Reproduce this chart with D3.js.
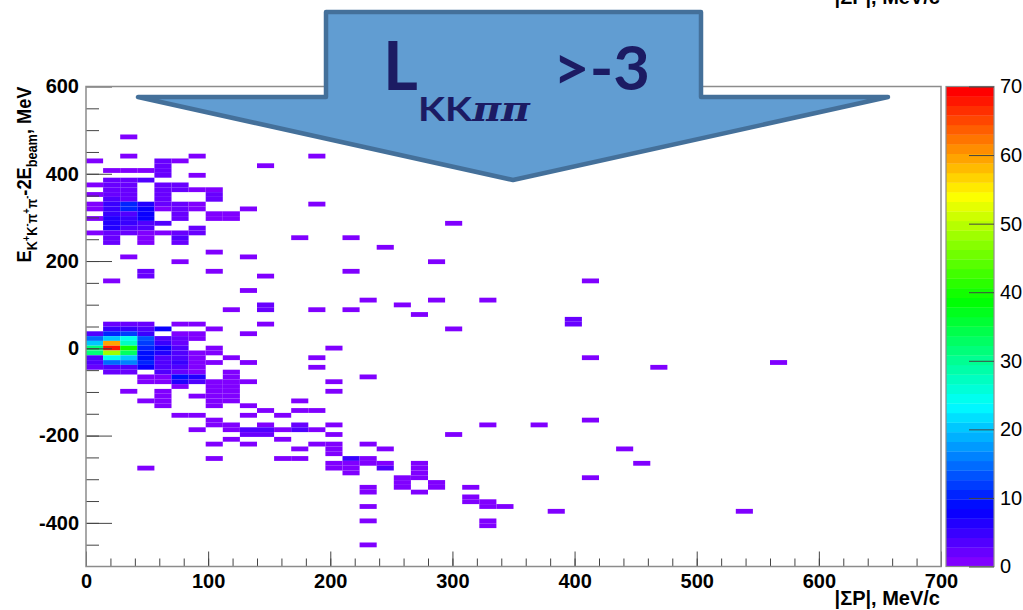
<!DOCTYPE html>
<html>
<head>
<meta charset="utf-8">
<script src="https://cdn.jsdelivr.net/npm/d3@7"></script>
<style>
  body { margin: 0; background: #fff; }
  svg { display: block; font-family: "Liberation Sans", Arial, sans-serif; }
</style>
</head>
<body>
<div class="container"></div>
<script>
var w = 1023;
var h = 610;

// histogram binning: |SumP| 0..700 in 14 MeV/c bins, E 0..1100 range in 11 MeV bins
var binW = 14;
var binH = 11;

// lower edge (MeV) of each filled row of the 2D histogram
var energyLow = [479, 435, 424, 413, 402, 391, 380, 369, 358, 347, 336, 325, 314, 303, 292, 281, 270, 259, 248, 237,
  226, 215, 204, 193, 171, 160, 149, 127, 105, 94, 83, 72, 61, 50, 39, 28, 17, 6, -5, -16,
  -27, -38, -49, -60, -71, -82, -93, -104, -115, -126, -137, -148, -159, -170, -181, -192, -203, -214, -225, -236,
  -247, -258, -269, -280, -291, -302, -313, -324, -335, -346, -357, -368, -379, -401, -412, -456];

// lower edges (MeV/c) of the filled bins in each row
var momentumLow = [
  [28], [28, 84, 182], [0, 56, 70], [56, 140], [14, 28, 42, 56], [56, 84], [14, 28, 42],
  [0, 14, 28, 56, 70], [14, 28, 56, 70, 84, 98], [0, 14, 28, 56, 98], [14, 28, 56, 98],
  [0, 14, 28, 42, 56, 70, 84, 182], [0, 14, 28, 42, 56, 70, 84, 126], [14, 28, 42, 70, 98, 112],
  [0, 14, 28, 42, 70, 98, 112], [14, 28, 42, 56, 294], [14, 28, 42, 84], [0, 14, 28, 42, 56, 70, 84],
  [14, 42, 70, 168, 210], [14, 42, 70],
  [238], [98], [28, 126], [70, 280], [42, 98, 210], [42, 140], [14, 406], [126], [224, 280, 322], [140, 252],
  [112, 140, 182, 210], [266], [392], [14, 28, 42, 70, 84, 140, 392], [14, 28, 42, 56, 98, 294],
  [0, 14, 28, 42, 70, 84, 126], [0, 14, 28, 42, 56, 70, 84], [0, 14, 28, 42, 56, 70],
  [0, 14, 28, 42, 56, 70, 98, 196], [0, 14, 28, 42, 56, 70, 84, 98],
  [0, 14, 28, 42, 56, 70, 84, 112, 182, 406], [0, 14, 28, 42, 56, 70, 84, 98, 126, 560],
  [0, 14, 28, 42, 56, 70, 84, 182, 462], [14, 28, 56, 70, 84, 112], [42, 56, 70, 84, 112, 224],
  [42, 56, 70, 84, 98, 112, 126, 196], [70, 98, 112], [28, 56, 98, 112, 196], [56, 84, 98, 112],
  [42, 56, 98, 112, 168], [56, 98, 126], [140, 168, 182], [70, 84, 126, 154], [98, 406],
  [98, 112, 140, 168, 196, 322, 364], [84, 112, 126, 140, 154, 168, 182], [126, 140, 196, 294], [112, 154],
  [98, 126, 182, 196, 224], [168, 196, 238, 434],
  [196], [98, 154, 168, 210, 224], [196, 210, 224, 238, 266, 448], [42, 196, 210, 238, 266], [210, 266],
  [252, 266, 406], [252, 280], [224, 252, 280, 308], [224, 266], [308], [308, 322], [224, 322, 336],
  [378, 532], [224, 322], [322], [224]];

// entries in those bins
var entries = [
  [1], [1, 1, 1], [1, 2, 1], [2, 1], [1, 1, 1, 2], [2, 1], [2, 2, 3],
  [1, 2, 2, 2, 2], [2, 2, 2, 2, 1, 1], [1, 2, 2, 2, 2], [4, 2, 2, 2],
  [1, 5, 10, 6, 2, 2, 1, 1], [1, 5, 11, 7, 1, 2, 1, 1], [5, 3, 7, 2, 1, 1],
  [1, 6, 5, 7, 2, 1, 1], [6, 5, 4, 3, 1], [6, 4, 3, 2], [1, 2, 2, 1, 1, 2, 2],
  [2, 1, 3, 1, 1], [2, 1, 2],
  [1], [1], [1, 1], [1, 1], [2, 1, 1], [2, 1], [1, 1], [1], [1, 1, 1], [2, 1],
  [1, 2, 1, 1], [1], [2], [2, 2, 2, 1, 1, 1, 2], [5, 5, 4, 8, 1, 1],
  [4, 10, 12, 5, 1, 1, 1], [14, 20, 25, 13, 3, 2, 1], [20, 60, 27, 12, 5, 2],
  [32, 68, 40, 10, 7, 3, 1, 1], [32, 48, 33, 9, 6, 3, 1, 1],
  [3, 24, 20, 9, 3, 3, 1, 1, 1, 1], [3, 14, 16, 10, 4, 5, 1, 1, 1, 1],
  [2, 3, 3, 8, 4, 3, 1, 1, 1], [2, 2, 3, 2, 1, 1], [1, 1, 9, 6, 1, 1],
  [1, 1, 6, 4, 1, 1, 1, 1], [1, 1, 1], [1, 1, 1, 1, 1], [1, 1, 1, 1],
  [1, 1, 1, 1, 1], [1, 1, 1], [1, 1, 1], [1, 1, 1, 1], [1, 1],
  [1, 1, 1, 2, 1, 1, 1], [1, 1, 3, 3, 1, 3, 1], [2, 2, 1, 1], [1, 1],
  [1, 1, 1, 1, 1], [1, 1, 1, 1],
  [1], [1, 1, 1, 5, 1], [1, 1, 1, 1, 1, 1], [1, 1, 1, 3, 1], [1, 1],
  [1, 1, 1], [1, 1], [1, 1, 1, 1], [1, 1], [1], [1, 1], [1, 1, 1],
  [1, 1], [1, 1], [1], [1]];

var xTicks = [0, 100, 200, 300, 400, 500, 600, 700];
var yTicks = [-400, -200, 0, 200, 400, 600];
var zTicks = [0, 10, 20, 30, 40, 50, 60, 70];
var zMax = 70;
var nLevels = 50;

var canvas = d3.select(".container").append("svg")
  .attr("width", w)
  .attr("height", h);

canvas.append("rect").attr("width", w).attr("height", h).attr("fill", "#fff");

var xScale = d3.scaleLinear().domain([0, 700]).range([86, 941]);
var yScale = d3.scaleLinear().domain([-500, 600]).range([566.5, 86.5]);
var zScale = d3.scaleLinear().domain([0, zMax]).range([566.5, 86.5]);

// old ROOT "pretty" palette: violet -> blue -> cyan -> green -> yellow -> red
function levelColor(lvl) {
  return d3.hsl(270 * (1 - lvl / (nLevels - 1)), 1, 0.5) + "";
}
function binColor(n) {
  var lvl = Math.min(nLevels - 1, Math.floor(n / zMax * nLevels));
  return levelColor(lvl);
}

var cells = [];
energyLow.forEach(function (e, r) {
  momentumLow[r].forEach(function (p, k) {
    cells.push({ p: p, e: e, n: entries[r][k] });
  });
});

// bins
canvas.append("g").selectAll("rect").data(cells).enter().append("rect")
  .attr("x", (d) => xScale(d.p))
  .attr("y", (d) => yScale(d.e + binH))
  .attr("width", (d) => xScale(d.p + binW) - xScale(d.p))
  .attr("height", (d) => yScale(d.e) - yScale(d.e + binH))
  .attr("fill", (d) => binColor(d.n));

// plain hyphen for negatives, as ROOT prints them
var plain = (d) => String(d);

function styleAxis(g, bold) {
  g.select(".domain").remove();
  g.selectAll(".tick line").attr("stroke", "#444").attr("stroke-width", 1);
  g.selectAll(".tick text")
    .attr("fill", "#000")
    .attr("font-size", 20)
    .attr("font-weight", bold ? "bold" : "normal")
    .attr("font-family", "'Liberation Sans', Arial, sans-serif");
}

// x axis (ticks inside the frame, ROOT style)
canvas.append("g")
  .attr("transform", "translate(0,566.5)")
  .call(d3.axisBottom(xScale).tickValues(d3.range(0, 701, 20)).tickSize(-8).tickSizeOuter(0).tickFormat(""))
  .call((g) => styleAxis(g, true));
canvas.append("g")
  .attr("transform", "translate(0,566.5)")
  .call(d3.axisBottom(xScale).tickValues(xTicks).tickSize(-15).tickSizeOuter(0).tickPadding(7).tickFormat(plain))
  .call((g) => styleAxis(g, true));

// y axis
canvas.append("g")
  .attr("transform", "translate(86,0)")
  .call(d3.axisLeft(yScale).tickValues(d3.range(-450, 600, 50)).tickSize(-13).tickSizeOuter(0).tickFormat(""))
  .call((g) => styleAxis(g, true));
canvas.append("g")
  .attr("transform", "translate(86,0)")
  .call(d3.axisLeft(yScale).tickValues(yTicks).tickSize(-26).tickSizeOuter(0).tickPadding(7).tickFormat(plain))
  .call((g) => styleAxis(g, true));

// frame
canvas.append("rect")
  .attr("x", 86).attr("y", 86.5).attr("width", 855).attr("height", 480)
  .attr("fill", "none").attr("stroke", "#8c8c8c").attr("stroke-width", 1.5);

// palette
var bands = d3.range(nLevels);
canvas.append("g").selectAll("rect").data(bands).enter().append("rect")
  .attr("x", 946)
  .attr("width", 48)
  .attr("y", (k) => zScale((k + 1) * zMax / nLevels))
  .attr("height", (k) => zScale(k * zMax / nLevels) - zScale((k + 1) * zMax / nLevels) + 0.3)
  .attr("fill", (k) => levelColor(k));
canvas.append("rect")
  .attr("x", 946).attr("y", 86.5).attr("width", 48).attr("height", 480)
  .attr("fill", "none").attr("stroke", "#8c8c8c").attr("stroke-width", 1.2);
canvas.append("g")
  .attr("transform", "translate(994,0)")
  .call(d3.axisRight(zScale).tickValues(zTicks).tickSize(-25).tickSizeOuter(0).tickPadding(6).tickFormat(plain))
  .call((g) => styleAxis(g, false));

// axis titles
canvas.append("text")
  .attr("x", 940).attr("y", 605)
  .attr("text-anchor", "end")
  .attr("font-size", 20).attr("font-weight", "bold")
  .text("|ΣP|, MeV/c");

// title of the plot above, cut by the page edge as in the slide
canvas.append("text")
  .attr("x", 940).attr("y", 4)
  .attr("text-anchor", "end")
  .attr("font-size", 20).attr("font-weight", "bold")
  .text("|ΣP|, MeV/c");

var yTitle = canvas.append("text")
  .attr("transform", "translate(31,86.5) rotate(-90)")
  .attr("text-anchor", "end")
  .attr("font-size", 20).attr("font-weight", "bold")
  .attr("textLength", 176).attr("lengthAdjust", "spacingAndGlyphs");
var yParts = [
  ["E", 20, 0], ["K", 14, 6], ["+", 10, -7], ["K", 14, 7], ["-", 10, -7],
  ["π", 14, 7], ["+", 10, -7], ["π", 14, 7], ["-", 10, -7],
  ["-2E", 20, 1], ["beam", 14, 6], [", MeV", 20, -6]
];
yParts.forEach(function (p) {
  yTitle.append("tspan").attr("font-size", p[1]).attr("dy", p[2]).text(p[0]);
});

// selection-cut arrow drawn on top of the plot
var arrow = canvas.append("g");
arrow.append("path")
  .attr("d", "M326,12 L701,12 L701,97 L888,97 L513,180 L138,97 L326,97 Z")
  .attr("fill", "#619dd2")
  .attr("stroke", "#44709a")
  .attr("stroke-width", 4.5)
  .attr("stroke-linejoin", "round");
arrow.append("text")
  .attr("x", 383).attr("y", 90)
  .attr("font-family", "Lato, 'Open Sans', sans-serif")
  .attr("font-weight", "bold").attr("font-size", 67)
  .attr("fill", "#1c1b63")
  .text("L");
arrow.append("text")
  .attr("x", 418).attr("y", 121)
  .attr("font-family", "Lato, 'Open Sans', sans-serif")
  .attr("font-weight", "bold").attr("font-size", 33)
  .attr("fill", "#1c1b63")
  .attr("textLength", 112).attr("lengthAdjust", "spacingAndGlyphs")
  .text("KK")
  .append("tspan").attr("font-style", "italic").attr("font-family", "'DejaVu Serif', serif").text("ππ");
arrow.append("text")
  .attr("x", 553).attr("y", 90)
  .attr("font-family", "Lato, 'Open Sans', sans-serif")
  .attr("font-weight", "bold").attr("font-size", 62)
  .attr("fill", "#1c1b63")
  .attr("textLength", 97).attr("lengthAdjust", "spacingAndGlyphs")
  .text(">-3");
</script>
</body>
</html>
